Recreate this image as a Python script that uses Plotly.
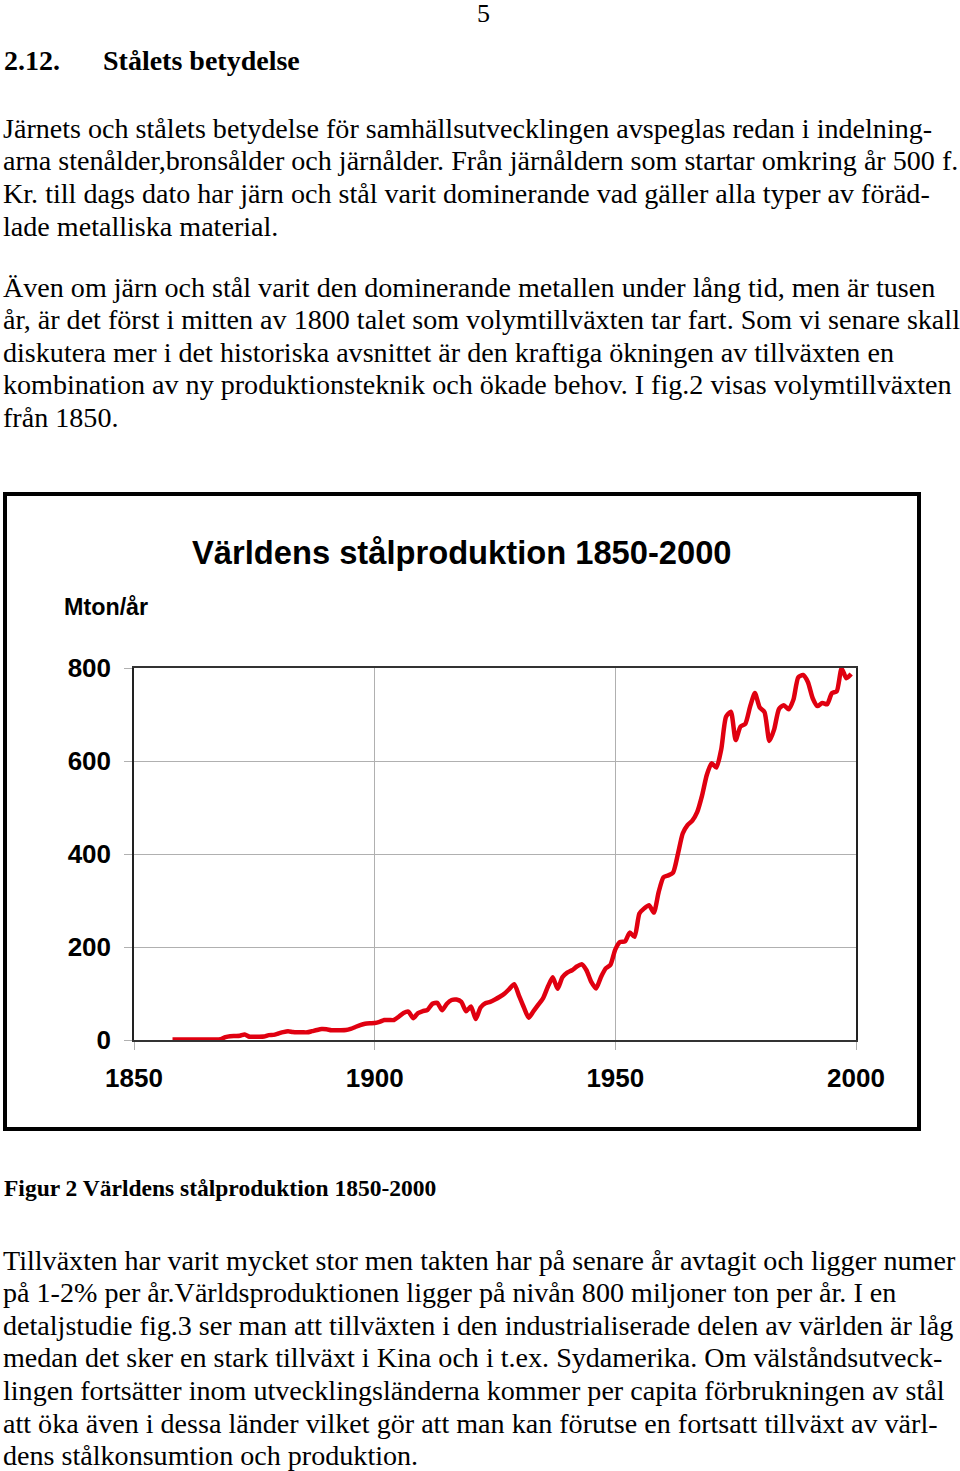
import plotly.graph_objects as go

W, H = 960, 1471

# ---- data (Mton/år) ----
years = list(range(1858, 2000))
steel = [
    1, 1, 1, 1, 1, 1, 1, 1, 1, 1, 2,
    6, 8, 8.5, 9, 12, 7, 7, 7, 7.5, 10.5, 11,
    14, 17, 19, 17, 16.5, 16.5, 16.5, 19, 21.5, 23.5,
    23, 21, 21, 21, 21.5, 24, 28, 32, 35, 36,
    36.5, 39, 43, 43, 43, 50, 58, 61, 47, 58,
    62, 65, 78, 80, 64, 78, 86, 87, 82, 62,
    72, 45, 70, 79, 82, 87, 93, 100, 110, 120,
    95, 70, 48, 62, 76, 90, 115, 135, 110, 135,
    145, 150, 158, 163, 150, 125, 111, 135, 154, 162,
    195, 211, 212, 231, 222, 272, 283, 290, 274, 318,
    350, 354, 360, 400, 444, 462, 472, 490, 525, 570,
    595, 586, 625, 695, 706, 645, 674, 680, 717, 746,
    715, 705, 643, 668, 712, 720, 711, 732, 780, 785,
    770, 735, 718, 725, 722, 746, 750, 799, 778, 787,
]
x_ticks = [1850, 1900, 1950, 2000]
y_ticks = [0, 200, 400, 600, 800]

chart_title = "Världens stålproduktion 1850-2000"
y_unit = "Mton/år"
page_no = "5"
heading_num = "2.12."
heading_txt = "Stålets betydelse"
para1 = [
    "Järnets och stålets betydelse för samhällsutvecklingen avspeglas redan i indelning-",
    "arna stenålder,bronsålder och järnålder. Från järnåldern som startar omkring år 500 f.",
    "Kr. till dags dato har järn och stål varit dominerande vad gäller alla typer av föräd-",
    "lade metalliska material.",
]
para2 = [
    "Även om järn och stål varit den dominerande metallen under lång tid, men är tusen",
    "år, är det först i mitten av 1800 talet som volymtillväxten tar fart. Som vi senare skall",
    "diskutera mer i det historiska avsnittet är den kraftiga ökningen av tillväxten en",
    "kombination av ny produktionsteknik och ökade behov. I fig.2 visas volymtillväxten",
    "från 1850.",
]
caption = "Figur 2 Världens stålproduktion 1850-2000"
para3 = [
    "Tillväxten har varit mycket stor men takten har på senare år avtagit och ligger numer",
    "på 1-2% per år.Världsproduktionen ligger på nivån 800 miljoner ton per år. I en",
    "detaljstudie fig.3 ser man att tillväxten i den industrialiserade delen av världen är låg",
    "medan det sker en stark tillväxt i Kina och i t.ex. Sydamerika. Om välståndsutveck-",
    "lingen fortsätter inom utvecklingsländerna kommer per capita förbrukningen av stål",
    "att öka även i dessa länder vilket gör att man kan förutse en fortsatt tillväxt av värl-",
    "dens stålkonsumtion och produktion.",
]

SERIF = "Liberation Serif, Times New Roman, serif"
SANS = "Liberation Sans, Arial, sans-serif"

def px(x):
    return x / W

def py(y):
    return 1 - y / H

fig = go.Figure()
fig.add_trace(go.Scatter(
    x=years, y=steel, mode="lines",
    line=dict(color="#e00010", width=4.5, shape="spline", smoothing=0.6),
    hoverinfo="skip", showlegend=False,
))

anns = []

def text(x, y, s, size, font=SERIF, bold=False, xanchor="left"):
    anns.append(dict(
        x=px(x), y=py(y), xref="paper", yref="paper", text=(f"<b>{s}</b>" if bold else s),
        showarrow=False, xanchor=xanchor, yanchor="middle",
        font=dict(family=font, size=size, color="black"),
    ))

BODY = 28.1
text(483, 14, page_no, 26, xanchor="center")
text(2, 60, heading_num, 28, bold=True)
text(101, 60, heading_txt, 28, bold=True)
for i, s in enumerate(para1):
    text(1, 128 + i * 32.7, s, BODY)
for i, s in enumerate(para2):
    text(1, 287 + i * 32.6, s, BODY)
text(2, 1188, caption, 23.5, bold=True)
for i, s in enumerate(para3):
    text(1, 1260 + i * 32.6, s, BODY)

# chart titles
text(190, 552, chart_title, 32.7, font=SANS, bold=True)
text(62, 607, y_unit, 23.3, font=SANS, bold=True)

fig.update_layout(
    width=W, height=H,
    margin=dict(l=0, r=0, t=0, b=0, pad=0, autoexpand=False),
    paper_bgcolor="white", plot_bgcolor="white",
    annotations=anns,
    shapes=[dict(type="rect", xref="paper", yref="paper",
                 x0=px(5), x1=px(919), y0=py(494), y1=py(1129),
                 line=dict(color="black", width=4), fillcolor="rgba(0,0,0,0)", layer="above")],
)
fig.update_xaxes(
    domain=[px(134), px(856)], range=[1850, 2000], automargin=False,
    tickvals=x_ticks, ticktext=[str(v) for v in x_ticks],
    showgrid=True, gridcolor="#b0b0b0", gridwidth=1,
    ticks="outside", ticklen=8, tickcolor="#b0b0b0",
    showline=True, linecolor="#333333", linewidth=1.5, mirror=True,
    tickfont=dict(family=SANS, size=26, color="black", weight="bold"),
    ticklabelstandoff=6, zeroline=False,
)
fig.update_yaxes(
    domain=[py(1040), py(668)], range=[0, 800], automargin=False,
    tickvals=y_ticks, ticktext=[str(v) for v in y_ticks],
    showgrid=True, gridcolor="#b0b0b0", gridwidth=1,
    ticks="outside", ticklen=8, tickcolor="#b0b0b0",
    showline=True, linecolor="#222222", linewidth=1.5, mirror=True,
    tickfont=dict(family=SANS, size=26, color="black", weight="bold"),
    ticklabelstandoff=8, zeroline=False,
)

fig.write_html(
    "out.html",
    config={"displayModeBar": False},
    post_script="document.body.style.margin='0';document.body.style.overflow='hidden';",
)
